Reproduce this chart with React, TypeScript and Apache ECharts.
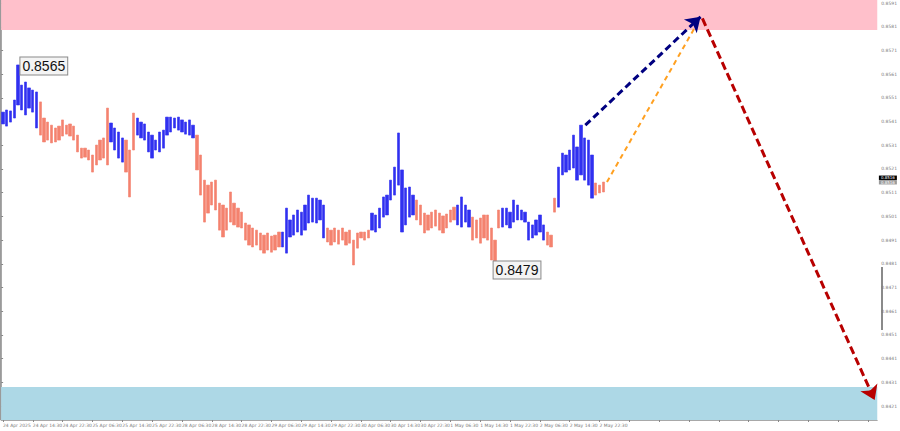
import React, { useEffect, useRef } from "react";
import * as echarts from "echarts";

// ---------- DATA ----------
const xTickLabels = [
  "24 Apr 2025", "24 Apr 14:30", "24 Apr 22:30", "25 Apr 06:30", "25 Apr 14:30",
  "25 Apr 22:30", "28 Apr 06:30", "28 Apr 14:30", "28 Apr 22:30", "29 Apr 06:30",
  "29 Apr 14:30", "29 Apr 22:30", "30 Apr 06:30", "30 Apr 14:30", "30 Apr 22:30",
  "1 May 06:30", "1 May 14:30", "1 May 22:30", "2 May 06:30", "2 May 14:30",
  "2 May 22:30",
];

const yTickLabels = [
  0.8421, 0.8431, 0.8441, 0.8451, 0.8461, 0.8471, 0.8481, 0.8491, 0.8501,
  0.8511, 0.8521, 0.8531, 0.8541, 0.8551, 0.8561, 0.8571, 0.8581, 0.8591,
];

// hourly bars (high / low)
const highs = [
  0.8545, 0.85459, 0.85455, 0.85501, 0.85649, 0.85564, 0.85577, 0.85552, 0.85543, 0.85535,
  0.85493, 0.85425, 0.85408, 0.85395, 0.85383, 0.85391, 0.85417, 0.85395, 0.854, 0.85391,
  0.85353, 0.85298, 0.85298, 0.8529, 0.85269, 0.85311, 0.85332, 0.85341, 0.85467, 0.85404,
  0.85383, 0.85366, 0.85341, 0.85332, 0.8529, 0.85446, 0.85425, 0.85408, 0.854, 0.85366,
  0.85353, 0.85332, 0.85366, 0.85374, 0.85429, 0.85429, 0.85425, 0.85429, 0.85417, 0.85408,
  0.85417, 0.85395, 0.85353, 0.85269, 0.85163, 0.85142, 0.85155, 0.85163, 0.85066, 0.85058,
  0.85045, 0.85113, 0.85066, 0.85045, 0.85028, 0.84982, 0.84974, 0.84961, 0.84952, 0.8494,
  0.84931, 0.8494, 0.84927, 0.84931, 0.84944, 0.84944, 0.85045, 0.84995, 0.85016, 0.85037,
  0.85028, 0.85058, 0.851, 0.85087, 0.85087, 0.85079, 0.85058, 0.84961, 0.84952, 0.84961,
  0.84952, 0.84961, 0.84944, 0.84952, 0.8491, 0.8494, 0.84944, 0.84944, 0.84952, 0.85024,
  0.85016, 0.85045, 0.85092, 0.851, 0.85163, 0.85218, 0.85362, 0.85206, 0.8513, 0.85134,
  0.851, 0.85079, 0.85058, 0.85024, 0.85016, 0.85028, 0.85037, 0.85024, 0.85012, 0.8502,
  0.85037, 0.85049, 0.85058, 0.85092, 0.85058, 0.85037, 0.85007, 0.84995, 0.85003, 0.85016,
  0.85016, 0.84961, 0.8491, 0.85037, 0.85045, 0.85045, 0.85028, 0.85079, 0.85058, 0.85037,
  0.85028, 0.84986, 0.84974, 0.84995, 0.85016, 0.84974, 0.84944, 0.84931, 0.85087, 0.85218,
  0.85277, 0.85269, 0.8529, 0.85353, 0.85303, 0.85395, 0.85341, 0.85332, 0.85269, 0.85151,
  0.85142, 0.85155,
];
const lows = [
  0.854, 0.85391, 0.85408, 0.85425, 0.8548, 0.85459, 0.85438, 0.85467, 0.8545, 0.85383,
  0.85353, 0.85324, 0.85332, 0.8532, 0.85324, 0.85332, 0.85349, 0.85357, 0.85349, 0.85332,
  0.85282, 0.85256, 0.8526, 0.85248, 0.85197, 0.85227, 0.85248, 0.85256, 0.85227, 0.85324,
  0.8529, 0.85256, 0.85239, 0.85197, 0.85092, 0.8529, 0.85353, 0.85341, 0.85332, 0.85282,
  0.85256, 0.8529, 0.85282, 0.85298, 0.85353, 0.85366, 0.85383, 0.85374, 0.85366, 0.85357,
  0.85353, 0.85341, 0.85206, 0.851, 0.84986, 0.85024, 0.85058, 0.85037, 0.84952, 0.84923,
  0.84952, 0.84986, 0.84974, 0.84965, 0.84961, 0.8491, 0.84889, 0.84881, 0.84889, 0.84868,
  0.84855, 0.84868, 0.84859, 0.84868, 0.84881, 0.84881, 0.84855, 0.84923, 0.84931, 0.84944,
  0.84931, 0.84952, 0.84982, 0.84986, 0.84982, 0.84995, 0.84919, 0.84902, 0.84889, 0.84902,
  0.84893, 0.8491, 0.84889, 0.84897, 0.84805, 0.84876, 0.84919, 0.8491, 0.84919, 0.84952,
  0.84944, 0.84961, 0.85007, 0.85016, 0.85079, 0.851, 0.85142, 0.84944, 0.84974, 0.85007,
  0.85016, 0.84995, 0.84974, 0.8494, 0.84952, 0.84961, 0.84969, 0.84952, 0.8494, 0.84961,
  0.84986, 0.84995, 0.84974, 0.84965, 0.84986, 0.84965, 0.8491, 0.84919, 0.84897, 0.84919,
  0.8491, 0.84826, 0.84796, 0.84961, 0.84965, 0.84974, 0.84961, 0.84986, 0.84995, 0.84995,
  0.84986, 0.8491, 0.84919, 0.84931, 0.84944, 0.8491, 0.84889, 0.84881, 0.85028, 0.85049,
  0.85185, 0.85197, 0.85206, 0.85214, 0.85163, 0.85185, 0.85163, 0.85142, 0.85087, 0.851,
  0.85109, 0.85113,
];

// wave segments: [first bar, last bar, direction]
const waveSegments: [number, number, "up" | "down"][] = [
  [0, 9, "up"], [10, 28, "down"], [29, 32, "up"], [33, 35, "down"],
  [36, 51, "up"], [52, 74, "down"], [75, 86, "up"], [87, 98, "down"],
  [99, 110, "up"], [111, 121, "down"], [122, 125, "up"], [126, 133, "down"],
  [134, 145, "up"], [146, 148, "down"], [149, 158, "up"], [159, 161, "down"],
];

const TOTAL_SLOTS = 235;
const Y_MIN = 0.84151;
const Y_MAX = 0.85923;
const resistanceZone = [0.85796, Y_MAX];
const supportZone = [Y_MIN, 0.8429];

const extremes = [
  { bar: 4, price: 0.85649, text: "0.8565", side: "high" },
  { bar: 132, price: 0.84796, text: "0.8479", side: "low" },
];

// forecast arrows: [slot position, price]
const forecastUp = [[156.7, 0.85395], [187.6, 0.85852]];
const forecastAlt = [[162.5, 0.85155], [186.9, 0.8583]];
const forecastDown = [[188.1, 0.85845], [234.3, 0.84235]];

// price tags on the right scale
const priceTags = [
  { price: 0.85173, text: "0.8516", bg: "#000000" },
  { price: 0.85154, text: "0.8516", bg: "#9a9a9a" },
];

// ---------- COLORS ----------
const UP_COLOR = "#3030F0";
const DOWN_COLOR = "#F4826E";

function buildOption() {
  const categories = Array.from({ length: TOTAL_SLOTS }, (_, i) => String(i));
  const colorOf = (i: number) => {
    const seg = waveSegments.find((s) => i >= s[0] && i <= s[1]);
    return seg && seg[2] === "up" ? UP_COLOR : DOWN_COLOR;
  };
  const barData = highs.map((h, i) => {
    const c = colorOf(i);
    return {
      value: [lows[i], h, lows[i], h],
      itemStyle: { color: c, color0: c, borderColor: c, borderColor0: c, borderWidth: 0.6 },
    };
  });

  const markPoints: any[] = extremes.map((e) => ({
    coord: [e.bar, e.price],
    symbol: "circle",
    symbolSize: 1,
    itemStyle: { color: "rgba(0,0,0,0)" },
    label: {
      show: true,
      formatter: e.text,
      position: "right",
      distance: e.side === "high" ? 2 : -2,
      offset: e.side === "high" ? [0, 1] : [0, 3],
      color: "#111",
      fontFamily: "Liberation Sans",
      fontSize: 14,
      lineHeight: 16,
      backgroundColor: "#f4f4f4",
      borderColor: "#8a8a8a",
      borderWidth: 1,
      padding: [1, 2, 0, 2],
    },
  }));
  priceTags.forEach((t) => {
    markPoints.push({
      coord: [TOTAL_SLOTS - 1, t.price],
      symbol: "circle",
      symbolSize: 1,
      itemStyle: { color: "rgba(0,0,0,0)" },
      label: {
        show: true,
        formatter: t.text,
        position: "right",
        distance: 3,
        color: "#fff",
        fontFamily: "DejaVu Sans",
        fontSize: 4,
        lineHeight: 4.4,
        backgroundColor: t.bg,
        padding: [0, 2],
      },
    });
  });

  const arrowSeries = (coords: number[][], color: string, width: number, dash: number[], arrow: boolean) => ({
    type: "lines",
    coordinateSystem: "cartesian2d",
    xAxisIndex: 1,
    yAxisIndex: 0,
    z: 5,
    silent: true,
    symbol: arrow ? ["none", "arrow"] : ["none", "none"],
    symbolSize: 14,
    lineStyle: { color, width, type: dash, opacity: 1 },
    data: [{ coords }],
  });

  return {
    animation: false,
    backgroundColor: "#ffffff",
    grid: { left: 0, right: 18, top: 0, bottom: 11, containLabel: false },
    xAxis: [
      {
        type: "category",
        data: categories,
        boundaryGap: true,
        axisLine: { show: true, lineStyle: { color: "#a8a8a8", width: 1 } },
        axisTick: { show: true, interval: 7, alignWithLabel: true, length: 2, lineStyle: { color: "#888" } },
        axisLabel: {
          interval: 7,
          fontSize: 4.5,
          color: "#7a7a7a",
          align: "left",
          margin: 3,
          fontFamily: "DejaVu Sans",
          formatter: (_v: string, idx: number) => (idx % 8 === 0 ? xTickLabels[idx / 8] ?? "" : ""),
        },
        splitLine: { show: false },
      },
      { type: "value", min: 0, max: TOTAL_SLOTS, show: false },
    ],
    yAxis: {
      type: "value",
      position: "right",
      min: Y_MIN,
      max: Y_MAX,
      axisLine: { show: true, lineStyle: { color: "#a8a8a8", width: 1 } },
      axisTick: { show: true, customValues: yTickLabels, length: 2, lineStyle: { color: "#888" } },
      axisLabel: {
        customValues: yTickLabels,
        fontSize: 4.5,
        color: "#7a7a7a",
        margin: 4,
        fontFamily: "DejaVu Sans",
        formatter: (v: number) => v.toFixed(4),
      },
      splitLine: { show: false },
    },
    series: [
      {
        type: "candlestick",
        data: barData,
        barWidth: 2.8,
        z: 3,
        markArea: {
          silent: true,
          data: [
            [{ yAxis: resistanceZone[0], itemStyle: { color: "#FFC0CB", opacity: 1 } }, { yAxis: resistanceZone[1] }],
            [{ yAxis: supportZone[0], itemStyle: { color: "#ADD8E6", opacity: 1 } }, { yAxis: supportZone[1] }],
          ],
        },
        markPoint: { silent: true, data: markPoints },
      },
      arrowSeries(forecastAlt, "#FFA020", 2, [5, 4], false),
      arrowSeries(forecastUp, "#000080", 3, [7, 4], true),
      arrowSeries(forecastDown, "#B80000", 3, [8, 4], true),
    ],
    graphic: [
      { type: "line", shape: { x1: 0.5, y1: 0, x2: 0.5, y2: 420 }, style: { stroke: "#9a9a9a", lineWidth: 1 } },
      { type: "rect", shape: { x: 881, y: 267, width: 2, height: 63 }, style: { fill: "#8a8a8a" } },
      {
        type: "text",
        x: 3,
        y: 3,
        style: { text: "▼ EURGBP,M30  0.8512 0.8516 0.8512 0.8516", fontSize: 4.5, fill: "#666", fontFamily: "DejaVu Sans" },
      },
    ],
  };
}

export default function App() {
  const ref = useRef<HTMLDivElement>(null);
  useEffect(() => {
    if (!ref.current) return;
    const chart = echarts.init(ref.current, null, { renderer: "svg" });
    chart.setOption(buildOption() as any);
    return () => chart.dispose();
  }, []);
  return <div ref={ref} style={{ position: "fixed", left: 0, top: 0, width: 900, height: 431 }} />;
}
